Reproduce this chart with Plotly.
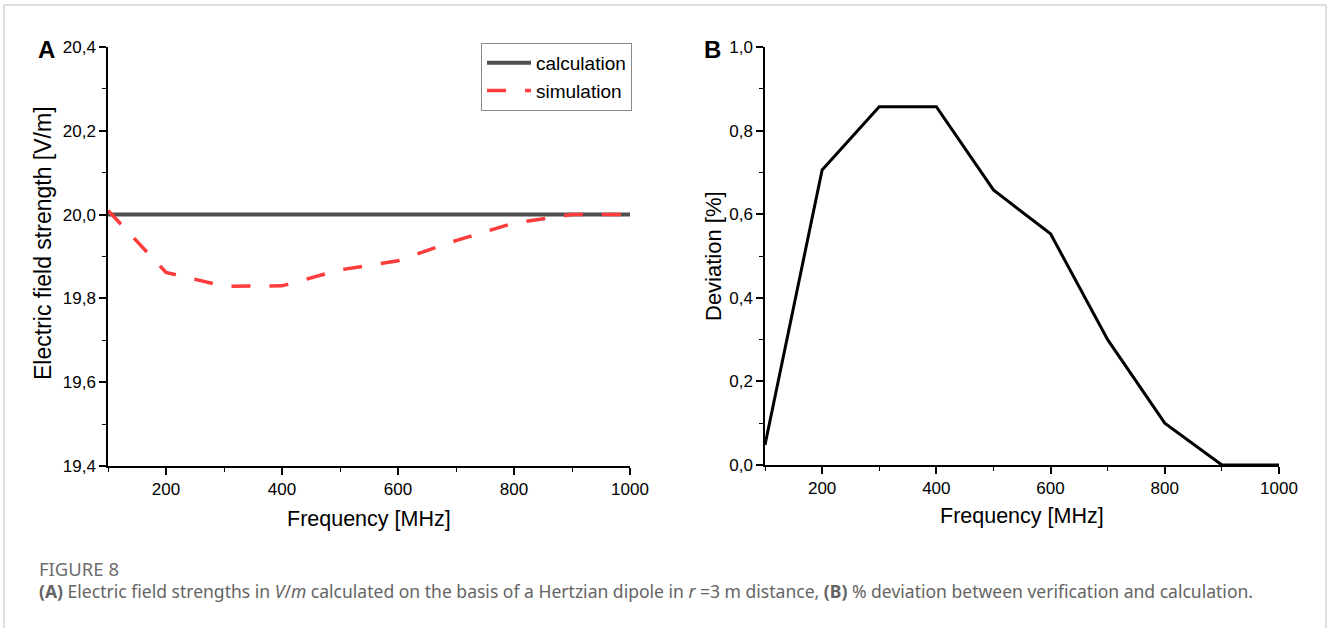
import plotly.graph_objects as go

# ---------------- data ----------------
freq_mhz = [100, 200, 300, 400, 500, 600, 700, 800, 900, 1000]
calculation = [20.0, 20.0, 20.0, 20.0, 20.0, 20.0, 20.0, 20.0, 20.0, 20.0]
simulation = [20.01, 19.862, 19.829, 19.83, 19.868, 19.89, 19.938, 19.98, 20.0, 20.0]
deviation = [0.048, 0.706, 0.857, 0.857, 0.658, 0.553, 0.30, 0.10, 0.0, 0.0]

x_tickvals = [200, 400, 600, 800, 1000]
x_ticktext = ["200", "400", "600", "800", "1000"]
x_minor = [100, 300, 500, 700, 900]
ya_tickvals = [19.4, 19.6, 19.8, 20.0, 20.2, 20.4]
ya_ticktext = ["19,4", "19,6", "19,8", "20,0", "20,2", "20,4"]
ya_minor = [19.5, 19.7, 19.9, 20.1, 20.3]
yb_tickvals = [0.0, 0.2, 0.4, 0.6, 0.8, 1.0]
yb_ticktext = ["0,0", "0,2", "0,4", "0,6", "0,8", "1,0"]
yb_minor = [0.1, 0.3, 0.5, 0.7, 0.9]

W, H = 1328, 628


def px(x):
    return x / W


def py(y):
    return 1 - y / H


AX_FONT = "Arial, 'Liberation Sans', sans-serif"
CAP_FONT = "'Noto Sans', Lato, sans-serif"

fig = go.Figure()
fig.add_trace(go.Scatter(x=freq_mhz, y=calculation, mode="lines", name="calculation",
                         line=dict(color="#4f4f4f", width=4), xaxis="x", yaxis="y"))
fig.add_trace(go.Scatter(x=freq_mhz, y=simulation, mode="lines", name="simulation",
                         line=dict(color="#ff3b3b", width=3.5, dash="19px,19px"),
                         xaxis="x", yaxis="y"))
fig.add_trace(go.Scatter(x=freq_mhz, y=deviation, mode="lines", showlegend=False,
                         line=dict(color="#000000", width=3), xaxis="x2", yaxis="y2"))

common_axis = dict(showline=True, linecolor="black", linewidth=1.5, ticks="outside",
                   ticklen=7, tickwidth=1.5, tickcolor="black", showgrid=False,
                   zeroline=False, mirror=False, automargin=False, fixedrange=True,
                   tickfont=dict(family=AX_FONT, size=17, color="black"))
minor_x = dict(ticks="outside", ticklen=4, tickwidth=1.2, tickcolor="black",
               tickmode="array", tickvals=x_minor, showgrid=False)

fig.update_layout(
    width=W, height=H, autosize=False,
    margin=dict(l=0, r=0, t=0, b=0, pad=0),
    paper_bgcolor="white", plot_bgcolor="white",
    xaxis=dict(domain=[px(108), px(630)], range=[100, 1000], anchor="y",
               tickmode="array", tickvals=x_tickvals, ticktext=x_ticktext,
               minor=minor_x, **common_axis),
    yaxis=dict(domain=[py(466), py(47)], range=[19.4, 20.4], anchor="x",
               tickmode="array", tickvals=ya_tickvals, ticktext=ya_ticktext,
               minor=dict(ticks="outside", ticklen=4, tickwidth=1.2, tickcolor="black",
                          tickmode="array", tickvals=ya_minor, showgrid=False),
               **common_axis),
    xaxis2=dict(domain=[px(765), px(1279)], range=[100, 1000], anchor="y2",
                tickmode="array", tickvals=x_tickvals, ticktext=x_ticktext,
                minor=minor_x, **common_axis),
    yaxis2=dict(domain=[py(465), py(47)], range=[0, 1.0], anchor="x2",
                tickmode="array", tickvals=yb_tickvals, ticktext=yb_ticktext,
                minor=dict(ticks="outside", ticklen=4, tickwidth=1.2, tickcolor="black",
                           tickmode="array", tickvals=yb_minor, showgrid=False),
                **common_axis),
    legend=dict(x=px(481), y=py(43), xanchor="left", yanchor="top",
                bgcolor="white", bordercolor="#8a8a8a", borderwidth=1,
                font=dict(family=AX_FONT, size=19, color="black"),
                tracegroupgap=0, itemwidth=44),
    showlegend=True,
)

annotations = [
    dict(text="<b>A</b>", x=px(46), y=py(49), font=dict(family=AX_FONT, size=24, color="black")),
    dict(text="<b>B</b>", x=px(712), y=py(49), font=dict(family=AX_FONT, size=24, color="black")),
    dict(text="Frequency [MHz]", x=px(369), y=py(519), font=dict(family=AX_FONT, size=21.5, color="black")),
    dict(text="Frequency [MHz]", x=px(1022), y=py(516), font=dict(family=AX_FONT, size=21.5, color="black")),
    dict(text="Electric field strength [V/m]", x=px(43), y=py(243), textangle=-90,
         font=dict(family=AX_FONT, size=23, color="black")),
    dict(text="Deviation [%]", x=px(713), y=py(256), textangle=-90,
         font=dict(family=AX_FONT, size=22, color="black")),
    dict(text="FIGURE 8", x=px(37), y=py(568), xanchor="left",
         font=dict(family=CAP_FONT, size=18.5, color="#6e6e6e")),
    dict(text="<b>(A)</b> Electric field strengths in <i>V</i>/<i>m</i> calculated on the basis of a "
              "Hertzian dipole in <i>r</i> =3 m distance, <b>(B)</b> % deviation between verification "
              "and calculation.",
         x=px(37), y=py(591), xanchor="left",
         font=dict(family=CAP_FONT, size=17.55, color="#646464")),
]
for a in annotations:
    a.setdefault("xanchor", "center")
    a.update(xref="paper", yref="paper", yanchor="middle", showarrow=False)
fig.update_layout(annotations=annotations)

fig.add_shape(type="rect", xref="paper", yref="paper",
              x0=px(4), x1=px(1326), y0=-0.05, y1=py(5),
              line=dict(color="#d4d4d4", width=1.5), fillcolor="rgba(0,0,0,0)", layer="below")

post = ("document.documentElement.style.margin='0';document.documentElement.style.padding='0';"
        "document.body.style.margin='0';document.body.style.padding='0';"
        "document.body.style.overflow='hidden';")

fig.write_html("out.html", post_script=post, config={"displayModeBar": False})
